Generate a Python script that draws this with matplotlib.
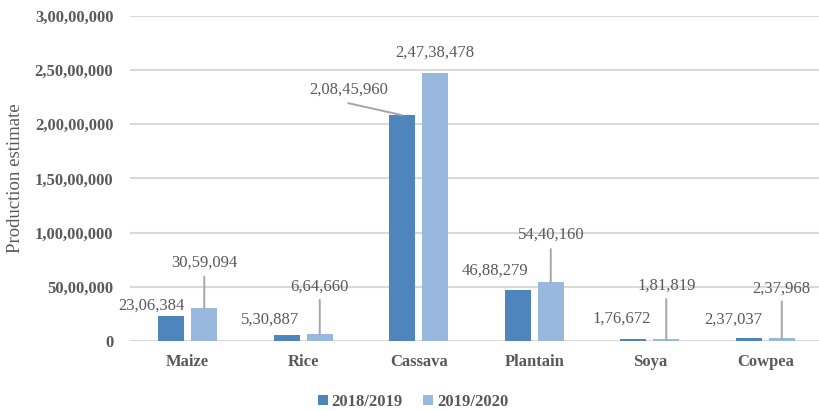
import matplotlib
matplotlib.use("Agg")
import matplotlib.pyplot as plt
import numpy as np
from matplotlib.patches import Patch

# --- data ---------------------------------------------------------------
crops = ["Maize", "Rice", "Cassava", "Plantain", "Soya", "Cowpea"]
season_labels = ["2018/2019", "2019/2020"]
prod_2018_19 = [2306384, 530887, 20845960, 4688279, 176672, 237037]
prod_2019_20 = [3059094, 664660, 24738478, 5440160, 181819, 237968]
y_ticks = [0, 5000000, 10000000, 15000000, 20000000, 25000000, 30000000]

# --- style ----------------------------------------------------------------
FONT = ["Liberation Serif", "DejaVu Serif"]
TEXT = "#595959"
DARK = "#4f85bd"
LIGHT = "#99b8de"
GRID = "#d9d9d9"
LEADER = "#a6a6a6"

# label offsets (pixels) from the top centre of each bar
off_dark = [(-20, 10), (-17, 16), (-54, 26), (-23, 20), (-12, 20), (-15, 19)]
off_light = [(0, 45), (0, 47), (0, 20), (0, 47), (0, 53), (0, 50)]
# leader lines: end point offsets (pixels) from the bar top, None = no line
lead_dark = [None, None, (-54, 12), None, None, None]
lead_light = [(0, 31), (0, 34), None, (0, 33), (0, 40), (0, 37)]


def indian(n):
    """Format an integer with Indian digit grouping (xx,xx,xxx)."""
    s = str(int(round(n)))
    if len(s) <= 3:
        return s
    head, tail = s[:-3], s[-3:]
    groups = []
    while len(head) > 2:
        groups.insert(0, head[-2:])
        head = head[:-2]
    if head:
        groups.insert(0, head)
    return ",".join(groups + [tail])


plt.rcParams["font.family"] = FONT

fig = plt.figure(figsize=(8.2, 4.11), dpi=100)
ax = fig.add_axes([130 / 820, 70 / 411, 693 / 820, 325 / 411])

x = np.arange(len(crops))
w = 0.225
shift = 0.143
b1 = ax.bar(x - shift, prod_2018_19, w, color=DARK, zorder=3)
b2 = ax.bar(x + shift, prod_2019_20, w, color=LIGHT, zorder=3)

ax.set_xlim(-0.5, len(crops) - 0.5)
ax.set_ylim(0, 30000000)
ax.set_yticks(y_ticks)
ax.set_yticklabels([indian(v) for v in y_ticks], fontsize=12,
                   fontweight="bold", color=TEXT)
ax.set_xticks(x)
ax.set_xticklabels(crops, fontsize=12, fontweight="bold", color=TEXT)
ax.tick_params(axis="both", length=0)
ax.tick_params(axis="y", pad=12)
ax.tick_params(axis="x", pad=9)
for s in ax.spines.values():
    s.set_visible(False)
ax.yaxis.grid(True, color=GRID, linewidth=1.5, zorder=0)
ax.set_axisbelow(True)

ax.set_ylabel("Production estimate", fontsize=13.5, color=TEXT)
ax.yaxis.set_label_coords(-0.153, 0.5)


def label_bars(bars, values, offsets, leaders):
    for rect, v, off, lead in zip(bars, values, offsets, leaders):
        cx = rect.get_x() + rect.get_width() / 2
        top = rect.get_height()
        if lead is not None:
            ax.annotate("", xy=(cx, top), xytext=lead,
                        textcoords="offset pixels",
                        arrowprops=dict(arrowstyle="-", color=LEADER,
                                        lw=1.4, shrinkA=0, shrinkB=0),
                        zorder=4, annotation_clip=False)
        ax.annotate(indian(v), xy=(cx, top), xytext=off,
                    textcoords="offset pixels", ha="center", va="center",
                    fontsize=12, color=TEXT, zorder=5,
                    annotation_clip=False)


label_bars(b1, prod_2018_19, off_dark, lead_dark)
label_bars(b2, prod_2019_20, off_light, lead_light)

handles = [Patch(facecolor=DARK, label=season_labels[0]),
           Patch(facecolor=LIGHT, label=season_labels[1])]
leg = fig.legend(handles=handles, loc="center",
                 bbox_to_anchor=(413 / 820, 1 - 402 / 411), ncol=2,
                 frameon=False, handlelength=0.6, handleheight=0.6,
                 handletextpad=0.25, columnspacing=1.2,
                 prop={"family": FONT, "size": 12, "weight": "bold"})
for t in leg.get_texts():
    t.set_color(TEXT)

fig.savefig("out.png", dpi=100)
